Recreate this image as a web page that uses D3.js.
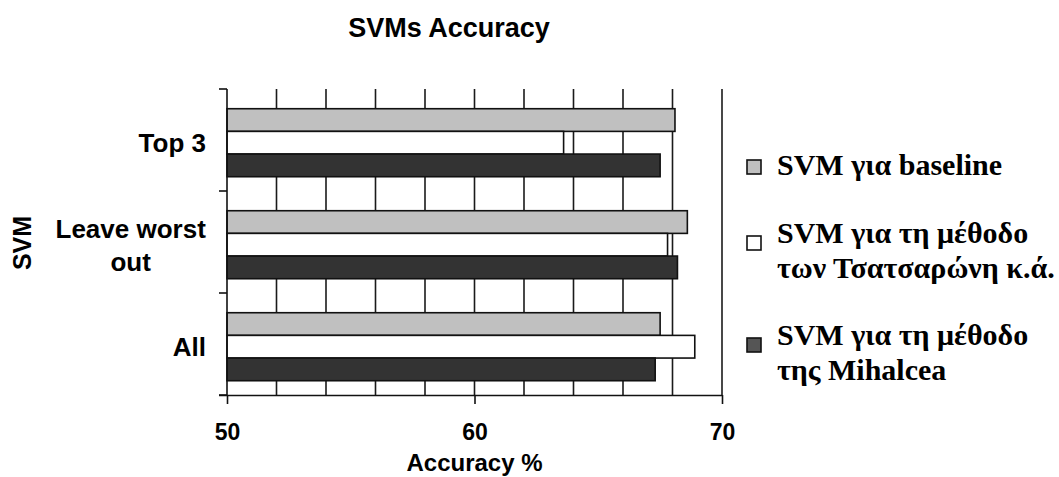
<!DOCTYPE html>
<html>
<head>
<meta charset="utf-8">
<script src="https://cdn.jsdelivr.net/npm/d3@7"></script>
<style>
  body { margin: 0; background: #fff; }
  #chart svg { display: block; }
</style>
</head>
<body>
<div id="chart"></div>
<script>
// SVMs Accuracy - grouped horizontal bars

// data
const categories = ['Top 3', 'Leave worst out', 'All'];
const categoryLines = [['Top 3'], ['Leave worst', 'out'], ['All']];
const seriesNames = ['SVM για baseline', 'SVM για τη μέθοδο των Τσατσαρώνη κ.ά.', 'SVM για τη μέθοδο της Mihalcea'];
const legendLines = [['SVM για baseline'], ['SVM για τη μέθοδο', 'των Τσατσαρώνη κ.ά.'], ['SVM για τη μέθοδο', 'της Mihalcea']];
const baselineValues = [68.1, 68.6, 67.5];
const tsatsaronisValues = [63.6, 67.8, 68.9];
const mihalceaValues = [67.5, 68.2, 67.3];
const xTicks = [50, 60, 70];
const gridTicks = [52, 54, 56, 58, 60, 62, 64, 66, 68, 70];
const seriesColors = ['#c0c0c0', '#ffffff', '#333333'];

const seriesValues = [baselineValues, tsatsaronisValues, mihalceaValues];

const width = 1059;
const height = 477;
const plot = { left: 227, right: 722, top: 89, bottom: 395 };
const sans = '"Liberation Sans", Arial, sans-serif';
const serif = '"Liberation Serif", "Times New Roman", serif';

const svg = d3.select('#chart').append('svg')
    .attr('width', width)
    .attr('height', height);

// scales
const xScale = d3.scaleLinear()
    .domain([50, 70])
    .range([plot.left, plot.right]);

const yScale = d3.scaleBand()
    .domain(categories)
    .range([plot.top, plot.bottom])
    .padding(0);

const inner = d3.scaleBand()
    .domain(seriesNames)
    .range([0, yScale.bandwidth()])
    .paddingInner(0)
    .paddingOuter(0.75)
    .align(0.58);

// title
svg.append('text')
    .attr('x', 449)
    .attr('y', 37)
    .attr('text-anchor', 'middle')
    .style('font-family', sans)
    .style('font-weight', 'bold')
    .style('font-size', '27px')
    .text('SVMs Accuracy');

// vertical gridlines
svg.selectAll('.grid')
    .data(gridTicks)
    .enter()
    .append('line')
    .attr('class', 'grid')
    .attr('x1', d => xScale(d))
    .attr('x2', d => xScale(d))
    .attr('y1', plot.top)
    .attr('y2', plot.bottom)
    .style('stroke', '#1a1a1a')
    .style('stroke-width', 1.6);

// bars
const rows = [];
categories.forEach((c, i) => {
    seriesNames.forEach((s, j) => {
        rows.push({ category: c, series: s, value: seriesValues[j][i], color: seriesColors[j] });
    });
});

svg.selectAll('.bar')
    .data(rows)
    .enter()
    .append('rect')
    .attr('class', 'bar')
    .attr('x', xScale(50))
    .attr('y', d => yScale(d.category) + inner(d.series))
    .attr('width', d => xScale(d.value) - xScale(50))
    .attr('height', inner.bandwidth())
    .style('fill', d => d.color)
    .style('stroke', '#111')
    .style('stroke-width', 1.6);

// x axis
const xAxis = svg.append('g')
    .attr('transform', `translate(0,${plot.bottom})`)
    .call(d3.axisBottom(xScale).tickValues(xTicks).tickSize(9).tickSizeOuter(0).tickPadding(20));

xAxis.select('.domain')
    .attr('d', `M${plot.left - 8},0.5H${plot.right}`)
    .style('stroke', '#111')
    .style('stroke-width', 1.6);
xAxis.selectAll('.tick line').style('stroke', '#111').style('stroke-width', 1.6);
xAxis.selectAll('.tick text')
    .style('font-family', sans)
    .style('font-weight', 'bold')
    .style('font-size', '23px')
    .style('fill', '#000');

// y axis (category ticks sit on the band edges)
svg.append('line')
    .attr('x1', plot.left)
    .attr('x2', plot.left)
    .attr('y1', plot.top)
    .attr('y2', plot.bottom)
    .style('stroke', '#111')
    .style('stroke-width', 1.6);

const bandEdges = categories.map(c => yScale(c)).concat([plot.bottom]);
svg.selectAll('.ytick')
    .data(bandEdges)
    .enter()
    .append('line')
    .attr('class', 'ytick')
    .attr('x1', plot.left - 8)
    .attr('x2', plot.left)
    .attr('y1', d => d)
    .attr('y2', d => d)
    .style('stroke', '#111')
    .style('stroke-width', 1.6);

// category labels: block right-aligned, lines centred inside the block
const catLabel = svg.selectAll('.cat-label')
    .data(categories)
    .enter()
    .append('text')
    .attr('class', 'cat-label')
    .attr('text-anchor', 'middle')
    .style('font-family', sans)
    .style('font-weight', 'bold')
    .style('font-size', '26px');

catLabel.each(function(c, i) {
    const lines = categoryLines[i];
    const lineH = 33;
    const cy = yScale(c) + yScale.bandwidth() / 2 + 3;
    const blockRight = 206;
    const t = d3.select(this);
    lines.forEach((ln, k) => {
        t.append('tspan')
            .attr('x', 0)
            .attr('y', cy + 9 + (k - (lines.length - 1) / 2) * lineH)
            .text(ln);
    });
    const w = this.getBBox().width;
    t.selectAll('tspan').attr('x', blockRight - w / 2);
});

// axis titles
svg.append('text')
    .attr('x', xScale(60))
    .attr('y', 471)
    .attr('text-anchor', 'middle')
    .style('font-family', sans)
    .style('font-weight', 'bold')
    .style('font-size', '24px')
    .text('Accuracy %');

svg.append('text')
    .attr('transform', 'translate(31,243) rotate(-90)')
    .attr('text-anchor', 'middle')
    .style('font-family', sans)
    .style('font-weight', 'bold')
    .style('font-size', '25px')
    .text('SVM');

// legend
const legendBaselines = [175, 243, 345];
const legend = svg.selectAll('.legend-item')
    .data(seriesNames)
    .enter()
    .append('g')
    .attr('class', 'legend-item');

legend.append('rect')
    .attr('x', 747)
    .attr('y', (d, i) => (legendLines[i].length === 1 ? legendBaselines[i] - 8 : legendBaselines[i]) - 7)
    .attr('width', 14)
    .attr('height', 14)
    .style('fill', (d, i) => i === 2 ? '#555' : seriesColors[i])
    .style('stroke', '#111')
    .style('stroke-width', 1.6);

legend.append('text')
    .style('font-family', serif)
    .style('font-weight', 'bold')
    .style('font-size', '30px')
    .each(function(d, i) {
        legendLines[i].forEach((ln, k) => {
            d3.select(this).append('tspan')
                .attr('x', 777)
                .attr('y', legendBaselines[i] + k * 35)
                .text(ln);
        });
    });
</script>
</body>
</html>
